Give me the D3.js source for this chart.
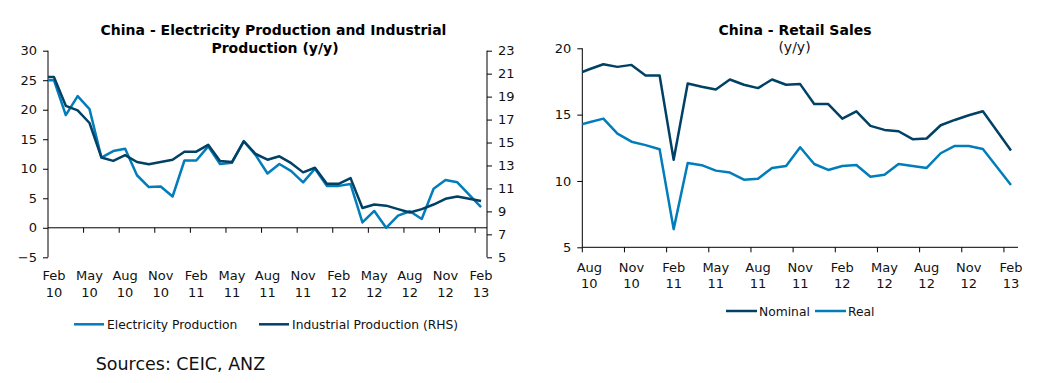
<!DOCTYPE html>
<html>
<head>
<meta charset="utf-8">
<script src="https://cdn.jsdelivr.net/npm/d3@7"></script>
<style>
  html, body { margin: 0; padding: 0; background: #fff; }
  svg { display: block; font-family: Verdana, "DejaVu Sans", sans-serif; }
</style>
</head>
<body>
<svg id="chart" width="1052" height="383"></svg>
<script>
// ---------- Left chart data (Jan 10 .. Feb 13; Jan 10 lies just left of the plot) ----------
const leftMonths = ["Jan 10","Feb 10","Mar 10","Apr 10","May 10","Jun 10","Jul 10","Aug 10","Sep 10","Oct 10","Nov 10","Dec 10",
  "Jan 11","Feb 11","Mar 11","Apr 11","May 11","Jun 11","Jul 11","Aug 11","Sep 11","Oct 11","Nov 11","Dec 11",
  "Jan 12","Feb 12","Mar 12","Apr 12","May 12","Jun 12","Jul 12","Aug 12","Sep 12","Oct 12","Nov 12","Dec 12",
  "Jan 13","Feb 13"];
const electricity = [25.0, 25.0, 19.1, 22.3, 20.1, 11.9, 13.0, 13.4, 8.9, 6.9, 7.0, 5.3,
  11.4, 11.4, 13.8, 10.8, 11.0, 14.7, 12.3, 9.2, 10.8, 9.6, 7.7, 10.0,
  7.1, 7.1, 7.4, 0.9, 2.85, 0.0, 2.05, 2.8, 1.5, 6.6, 8.1, 7.7,
  null, 3.5];
const industrial = [20.7, 20.7, 18.2, 17.8, 16.7, 13.7, 13.4, 13.9, 13.3, 13.1, 13.3, 13.5,
  14.2, 14.2, 14.8, 13.4, 13.3, 15.1, 14.0, 13.5, 13.8, 13.2, 12.4, 12.8,
  11.4, 11.4, 11.9, 9.3, 9.6, 9.5, 9.2, 8.9, 9.2, 9.6, 10.1, 10.3,
  null, 9.9];
const leftTickMonths = ["Feb","May","Aug","Nov","Feb","May","Aug","Nov","Feb","May","Aug","Nov","Feb"];
const leftTickYears  = ["10","10","10","10","11","11","11","11","12","12","12","12","13"];
const leftYTicks  = [-5, 0, 5, 10, 15, 20, 25, 30];
const rightYTicks = [5, 7, 9, 11, 13, 15, 17, 19, 21, 23];

// ---------- Right chart data (Jul 10 .. Feb 13; Jul 10 lies just left of the plot) ----------
const retailMonths = ["Jul 10","Aug 10","Sep 10","Oct 10","Nov 10","Dec 10",
  "Jan 11","Feb 11","Mar 11","Apr 11","May 11","Jun 11","Jul 11","Aug 11","Sep 11","Oct 11","Nov 11","Dec 11",
  "Jan 12","Feb 12","Mar 12","Apr 12","May 12","Jun 12","Jul 12","Aug 12","Sep 12","Oct 12","Nov 12","Dec 12",
  "Jan 13","Feb 13"];
const nominal = [18.0, 18.42, 18.8, 18.6, 18.75, 17.95,
  17.95, 11.6, 17.35, 17.1, 16.9, 17.65, 17.25, 17.0, 17.65, 17.25, 17.3, 15.8,
  15.8, 14.7, 15.25, 14.15, 13.85, 13.75, 13.15, 13.2, 14.2, 14.6, 14.95, 15.25,
  null, 12.3];
const real = [14.15, 14.42, 14.7, 13.57, 12.96, 12.7,
  12.39, 6.37, 11.36, 11.19, 10.78, 10.63, 10.1, 10.17, 10.97, 11.13, 12.54, 11.28,
  10.83, 11.13, 11.2, 10.32, 10.47, 11.28, 11.13, 10.98, 12.09, 12.64, 12.64, 12.41,
  null, 9.7];
const retailTickMonths = ["Aug","Nov","Feb","May","Aug","Nov","Feb","May","Aug","Nov","Feb"];
const retailTickYears  = ["10","10","11","11","11","11","12","12","12","12","13"];
const retailYTicks = [5, 10, 15, 20];

const LIGHT = "#007DBA";
const DARK = "#004165";
const FONT = 'Verdana, "DejaVu Sans", sans-serif';

const svg = d3.select("#chart");

// ================= LEFT CHART =================
(function () {
  const L = 48, R = 487, T = 50.7, B = 257.3;
  const nCat = 37; // Feb 10 .. Feb 13
  const x = d3.scaleLinear().domain([0, nCat]).range([L, R]);
  const yL = d3.scaleLinear().domain([-5, 30]).range([B, T]);
  const yR = d3.scaleLinear().domain([5, 23]).range([B, T]);
  const g = svg.append("g");

  g.append("clipPath").attr("id", "clipL").append("rect")
    .attr("x", L).attr("y", 0).attr("width", R - L).attr("height", 383);

  const axL = d3.axisLeft(yL).tickValues(leftYTicks).tickSize(5).tickPadding(6).tickFormat(d3.format("d"));
  const gl = g.append("g").attr("transform", `translate(${L},0)`).call(axL);
  const axR = d3.axisRight(yR).tickValues(rightYTicks).tickSize(5).tickPadding(6).tickFormat(d3.format("d"));
  const gr = g.append("g").attr("transform", `translate(${R},0)`).call(axR);
  [gl, gr].forEach(a => {
    a.select(".domain").attr("d", `M0,${T}V${B}`).attr("stroke", "#000");
    a.selectAll(".tick line").attr("stroke", "#000");
    a.selectAll("text").attr("font-family", FONT).attr("font-size", 13).attr("fill", "#111");
  });

  const y0 = yL(0);
  g.append("line").attr("x1", L).attr("x2", R).attr("y1", y0).attr("y2", y0).attr("stroke", "#000");
  const tickIdx = d3.range(1, 13).map(k => 3 * k);
  g.selectAll(".xtl").data(tickIdx).enter().append("line")
    .attr("x1", d => x(d)).attr("x2", d => x(d)).attr("y1", y0).attr("y2", y0 + 5).attr("stroke", "#000");
  const labIdx = d3.range(0, 13).map(k => 3 * k + 0.5);
  g.selectAll(".xm").data(labIdx).enter().append("text")
    .attr("x", d => x(d)).attr("y", 280).attr("text-anchor", "middle")
    .attr("font-family", FONT).attr("font-size", 13).attr("fill", "#111")
    .text((d, i) => leftTickMonths[i]);
  g.selectAll(".xy").data(labIdx).enter().append("text")
    .attr("x", d => x(d)).attr("y", 297.3).attr("text-anchor", "middle")
    .attr("font-family", FONT).attr("font-size", 13).attr("fill", "#111")
    .text((d, i) => leftTickYears[i]);

  const pos = i => x(i - 1 + 0.5);
  const mk = (vals, ys) => d3.line()
    .x(d => pos(d.i)).y(d => ys(d.v))(vals.map((v, i) => ({ v, i })).filter(d => d.v !== null));

  g.append("path").attr("d", mk(electricity, yL)).attr("clip-path", "url(#clipL)")
    .attr("fill", "none").attr("stroke", LIGHT).attr("stroke-width", 2.5).attr("stroke-linejoin", "round");
  g.append("path").attr("d", mk(industrial, yR)).attr("clip-path", "url(#clipL)")
    .attr("fill", "none").attr("stroke", DARK).attr("stroke-width", 2.5).attr("stroke-linejoin", "round");

  g.append("text").attr("x", 273.5).attr("y", 35).attr("text-anchor", "middle")
    .attr("font-family", FONT).attr("font-size", 14).attr("font-weight", "bold").attr("fill", "#000")
    .text("China - Electricity Production and Industrial");
  g.append("text").attr("x", 275).attr("y", 52.7).attr("text-anchor", "middle")
    .attr("font-family", FONT).attr("font-size", 14).attr("font-weight", "bold").attr("fill", "#000")
    .text("Production (y/y)");

  const leg = [{ name: "Electricity Production", c: LIGHT, x: 74 }, { name: "Industrial Production (RHS)", c: DARK, x: 259 }];
  leg.forEach(d => {
    g.append("line").attr("x1", d.x).attr("x2", d.x + 30).attr("y1", 324.3).attr("y2", 324.3)
      .attr("stroke", d.c).attr("stroke-width", 2.5);
    g.append("text").attr("x", d.x + 33).attr("y", 328.8)
      .attr("font-family", FONT).attr("font-size", 12.3).attr("fill", "#111").text(d.name);
  });

  g.append("text").attr("x", 95.7).attr("y", 369.5)
    .attr("font-family", FONT).attr("font-size", 17.5).attr("fill", "#111").text("Sources: CEIC, ANZ");
})();

// ================= RIGHT CHART =================
(function () {
  const L = 582.3, R = 1018, T = 48.3, B = 247.3;
  const nCat = 31; // Aug 10 .. Feb 13
  const x = d3.scaleLinear().domain([0, nCat]).range([L, R]);
  const y = d3.scaleLinear().domain([5, 20]).range([B, T]);
  const g = svg.append("g");

  g.append("clipPath").attr("id", "clipR").append("rect")
    .attr("x", L).attr("y", 0).attr("width", R - L).attr("height", 383);

  const ax = d3.axisLeft(y).tickValues(retailYTicks).tickSize(5).tickPadding(6).tickFormat(d3.format("d"));
  const ga = g.append("g").attr("transform", `translate(${L},0)`).call(ax);
  ga.select(".domain").attr("d", `M0,${T}V${B}`).attr("stroke", "#000");
  ga.selectAll(".tick line").attr("stroke", "#000");
  ga.selectAll("text").attr("font-family", FONT).attr("font-size", 13).attr("fill", "#111");

  g.append("line").attr("x1", L).attr("x2", R).attr("y1", B).attr("y2", B).attr("stroke", "#000");
  const tickIdx = d3.range(0, 11).map(k => 3 * k);
  g.selectAll(".xtr").data(tickIdx).enter().append("line")
    .attr("x1", d => x(d)).attr("x2", d => x(d)).attr("y1", B).attr("y2", B + 5).attr("stroke", "#000");
  const labIdx = d3.range(0, 11).map(k => 3 * k + 0.5);
  g.selectAll(".xm").data(labIdx).enter().append("text")
    .attr("x", d => x(d)).attr("y", 271.5).attr("text-anchor", "middle")
    .attr("font-family", FONT).attr("font-size", 13).attr("fill", "#111")
    .text((d, i) => retailTickMonths[i]);
  g.selectAll(".xy").data(labIdx).enter().append("text")
    .attr("x", d => x(d)).attr("y", 287.5).attr("text-anchor", "middle")
    .attr("font-family", FONT).attr("font-size", 13).attr("fill", "#111")
    .text((d, i) => retailTickYears[i]);

  const pos = i => x(i - 1 + 0.5);
  const mk = vals => d3.line()
    .x(d => pos(d.i)).y(d => y(d.v))(vals.map((v, i) => ({ v, i })).filter(d => d.v !== null));

  g.append("path").attr("d", mk(nominal)).attr("clip-path", "url(#clipR)")
    .attr("fill", "none").attr("stroke", DARK).attr("stroke-width", 2.5).attr("stroke-linejoin", "round");
  g.append("path").attr("d", mk(real)).attr("clip-path", "url(#clipR)")
    .attr("fill", "none").attr("stroke", LIGHT).attr("stroke-width", 2.5).attr("stroke-linejoin", "round");

  g.append("text").attr("x", 795).attr("y", 35).attr("text-anchor", "middle")
    .attr("font-family", FONT).attr("font-size", 14).attr("font-weight", "bold").attr("fill", "#000")
    .text("China - Retail Sales");
  g.append("text").attr("x", 794.5).attr("y", 51.5).attr("text-anchor", "middle")
    .attr("font-family", FONT).attr("font-size", 14).attr("fill", "#111")
    .text("(y/y)");

  const leg = [{ name: "Nominal", c: DARK, x: 726 }, { name: "Real", c: LIGHT, x: 815 }];
  leg.forEach(d => {
    g.append("line").attr("x1", d.x).attr("x2", d.x + 31).attr("y1", 311).attr("y2", 311)
      .attr("stroke", d.c).attr("stroke-width", 2.5);
    g.append("text").attr("x", d.x + 33).attr("y", 315.5)
      .attr("font-family", FONT).attr("font-size", 12.3).attr("fill", "#111").text(d.name);
  });
})();
</script>
</body>
</html>
